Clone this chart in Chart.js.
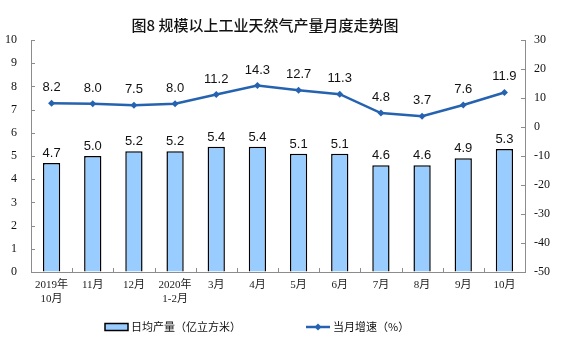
<!DOCTYPE html>
<html>
<head>
<meta charset="utf-8">
<script src="https://cdn.jsdelivr.net/npm/chart.js@4/dist/chart.umd.min.js"></script>
<style>
html,body{margin:0;padding:0;background:#fff;}
canvas{display:block;}
</style>
</head>
<body>
<canvas id="c" width="561" height="357"></canvas>
<script>
const titleText = '图8 规模以上工业天然气产量月度走势图';
const categories = [['2019年','10月'],'11月','12月',['2020年','1-2月'],'3月','4月','5月','6月','7月','8月','9月','10月'];
const dailyOutput = [4.7,5.0,5.2,5.2,5.4,5.4,5.1,5.1,4.6,4.6,4.9,5.3];
const growthRate = [8.2,8.0,7.5,8.0,11.2,14.3,12.7,11.3,4.8,3.7,7.6,11.9];
const barLabel = '日均产量（亿立方米）';
const lineLabel = '当月增速（%）';

const BAR_FILL = '#99ccff';
const LINE_COLOR = '#2563b0';
const AXIS_COLOR = '#8c8c8c';

const extras = {
  id: 'extras',
  afterDraw(chart) {
    const ctx = chart.ctx;
    const area = chart.chartArea;
    ctx.save();
    // title
    ctx.fillStyle = '#111';
    ctx.font = '500 15px "Noto Sans CJK SC", sans-serif';
    ctx.textAlign = 'center';
    ctx.textBaseline = 'middle';
    ctx.fillText(titleText, 265, 25);

    // inner ticks
    ctx.strokeStyle = AXIS_COLOR;
    ctx.lineWidth = 1;
    const yL = chart.scales.y, yR = chart.scales.y1;
    yL.ticks.forEach(t => {
      const py = Math.round(yL.getPixelForValue(t.value)) + 0.5;
      ctx.beginPath(); ctx.moveTo(area.left, py); ctx.lineTo(area.left + 4, py); ctx.stroke();
    });
    yR.ticks.forEach(t => {
      const py = Math.round(yR.getPixelForValue(t.value)) + 0.5;
      ctx.beginPath(); ctx.moveTo(area.right, py); ctx.lineTo(area.right - 4, py); ctx.stroke();
    });
    const n = categories.length;
    const w = (area.right - area.left) / n;
    for (let i = 1; i < n; i++) {
      const px = Math.round(area.left + i * w) + 0.5;
      ctx.beginPath(); ctx.moveTo(px, area.bottom); ctx.lineTo(px, area.bottom - 4); ctx.stroke();
    }

    // legend
    const ly = 327;
    ctx.fillStyle = BAR_FILL;
    ctx.fillRect(105, ly - 3.5, 23, 7);
    ctx.strokeStyle = '#000';
    ctx.lineWidth = 1.5;
    ctx.strokeRect(105, ly - 3.5, 23, 7);
    ctx.fillStyle = '#111';
    ctx.font = '11px "Noto Sans CJK SC", sans-serif';
    ctx.textAlign = 'left';
    ctx.textBaseline = 'middle';
    ctx.fillText(barLabel, 131, ly);
    ctx.strokeStyle = LINE_COLOR;
    ctx.lineWidth = 2.5;
    ctx.beginPath(); ctx.moveTo(306, ly); ctx.lineTo(330, ly); ctx.stroke();
    ctx.fillStyle = LINE_COLOR;
    ctx.beginPath();
    ctx.moveTo(318, ly - 3.5); ctx.lineTo(321.5, ly); ctx.lineTo(318, ly + 3.5); ctx.lineTo(314.5, ly); ctx.closePath();
    ctx.fill();
    ctx.fillStyle = '#111';
    ctx.fillText(lineLabel, 333, ly);
    ctx.restore();
  },
  afterDatasetsDraw(chart) {
    const ctx = chart.ctx;
    ctx.save();
    ctx.fillStyle = '#111';
    ctx.font = '13px "Liberation Sans", Arial, sans-serif';
    ctx.textAlign = 'center';
    ctx.textBaseline = 'alphabetic';
    chart.data.datasets.forEach((ds, di) => {
      const meta = chart.getDatasetMeta(di);
      meta.data.forEach((el, i) => {
        const v = ds.data[i].toFixed(1);
        if (ds.type === 'bar') ctx.fillText(v, el.x, el.y - 6);
        else ctx.fillText(v, el.x, el.y - 12);
      });
    });
    ctx.restore();
  }
};

new Chart(document.getElementById('c'), {
  data: {
    labels: categories,
    datasets: [
      {
        type: 'line',
        label: lineLabel,
        data: growthRate,
        yAxisID: 'y1',
        borderColor: LINE_COLOR,
        backgroundColor: LINE_COLOR,
        borderWidth: 2.5,
        pointStyle: 'rectRot',
        pointRadius: 3.5,
        pointBorderWidth: 0,
        pointBackgroundColor: LINE_COLOR,
        tension: 0,
        order: 0
      },
      {
        type: 'bar',
        label: barLabel,
        data: dailyOutput,
        yAxisID: 'y',
        backgroundColor: BAR_FILL,
        borderColor: '#000',
        borderWidth: 1.5,
        categoryPercentage: 0.84,
        barPercentage: 0.5,
        order: 1
      }
    ]
  },
  options: {
    responsive: false,
    animation: false,
    events: [],
    layout: { padding: { top: 40, bottom: 0, left: 0, right: 0 } },
    plugins: { legend: { display: false }, tooltip: { enabled: false }, title: { display: false } },
    scales: {
      x: {
        offset: true,
        grid: { display: true, drawOnChartArea: false, drawTicks: false, offset: true },
        border: { display: true, color: AXIS_COLOR, width: 1 },
        ticks: { color: '#222', font: { family: '"Liberation Serif", "Noto Sans CJK SC", serif', size: 11, lineHeight: 1.3 }, padding: 6, maxRotation: 0, autoSkip: false },
        afterFit(s) { s.height = 85; }
      },
      y: {
        position: 'left',
        min: 0, max: 10,
        grid: { display: true, drawOnChartArea: false, drawTicks: false },
        border: { display: true, color: AXIS_COLOR, width: 1 },
        ticks: { stepSize: 1, color: '#111', font: { family: '"Liberation Serif", serif', size: 12 }, padding: 14 },
        afterFit(s) { s.width = 31; }
      },
      y1: {
        position: 'right',
        min: -50, max: 30,
        grid: { display: true, drawOnChartArea: false, drawTicks: false },
        border: { display: true, color: AXIS_COLOR, width: 1 },
        ticks: { stepSize: 10, color: '#111', font: { family: '"Liberation Serif", serif', size: 12 }, padding: 9 },
        afterFit(s) { s.width = 36; }
      }
    }
  },
  plugins: [extras]
});
</script>
</body>
</html>
